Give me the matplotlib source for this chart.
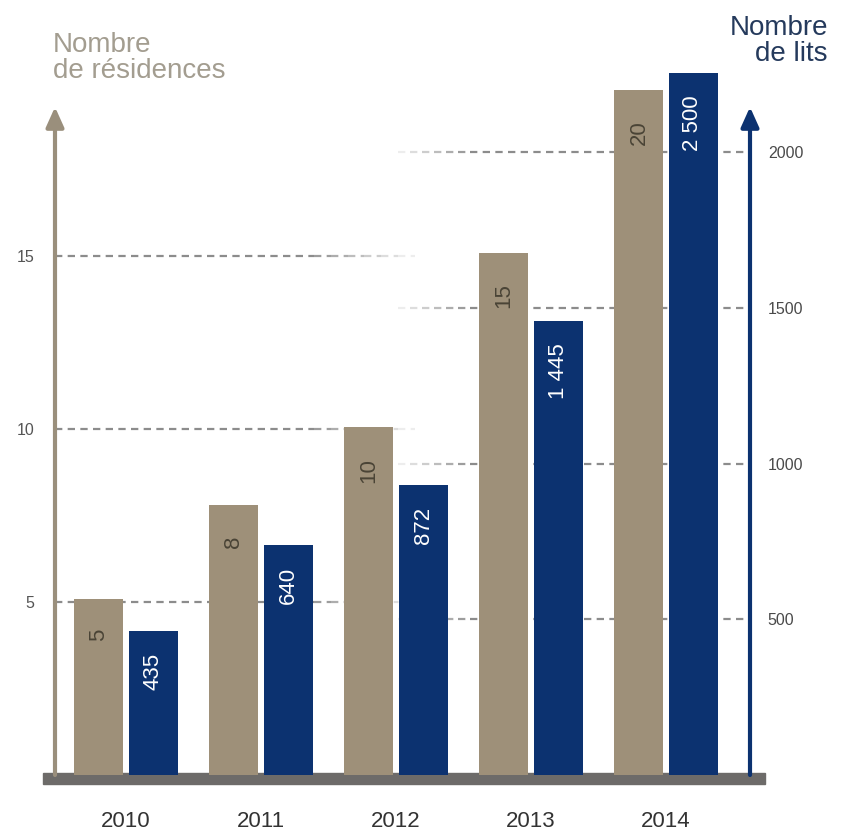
import matplotlib
matplotlib.use("Agg")
import matplotlib.pyplot as plt
from matplotlib.transforms import blended_transform_factory
import numpy as np

plt.rcParams['font.family'] = ['Liberation Sans', 'DejaVu Sans']

# ---- data ----
years = ['2010', '2011', '2012', '2013', '2014']
residences = [5.1, 7.8, 10.05, 15.1, 19.8]          # bar heights as drawn
residences_labels = ['5', '8', '10', '15', '20']
lits = [463, 739, 932, 1458, 2255]                   # bar heights as drawn
lits_labels = ['435', '640', '872', '1 445', '2 500']
left_ticks = [5, 10, 15]
right_ticks = [500, 1000, 1500, 2000]

TAN = '#9e9079'
NAVY = '#0c3270'
TAN_AXIS = '#9a8f7c'
GRID = '#8c8c8c'

W, H = 845, 831
fig = plt.figure(figsize=(W / 100, H / 100), dpi=100)
fig.patch.set_facecolor('white')

# axes in pixel layout
x0, x1 = 43, 765
ytop, ybot = 60, 775
ax = fig.add_axes([x0 / W, 1 - ybot / H, (x1 - x0) / W, (ybot - ytop) / H])
ax2 = ax.twinx()

px_per_unit = 135.0
c0 = 126
ax.set_xlim((x0 - c0) / px_per_unit, (x1 - c0) / px_per_unit)
ax.set_ylim(0, (ybot - ytop) / 34.6)
ax2.set_ylim(0, (ybot - ytop) / 0.3113)

for a in (ax, ax2):
    for s in a.spines.values():
        s.set_visible(False)

x = np.arange(len(years))
bw = 49 / px_per_unit
off = 27 / px_per_unit

# ---- gridlines (faded ends), drawn beneath bars ----
def faded_line(axis_for_y, yval, xa, xb, fade_side, fade_len):
    tr = blended_transform_factory(ax.transAxes, axis_for_y.transData)
    n = 6
    if fade_side == 'right':
        solid = (xa, xb - fade_len)
        ax.plot(solid, [yval, yval], transform=tr, color=GRID, lw=1.6,
                dashes=(3.3, 2.4), zorder=1, solid_capstyle='butt')
        edges = np.linspace(xb - fade_len, xb, n + 1)
        alphas = np.linspace(0.85, 0.15, n)
    else:
        solid = (xa + fade_len, xb)
        ax.plot(solid, [yval, yval], transform=tr, color=GRID, lw=1.6,
                dashes=(3.3, 2.4), zorder=1, solid_capstyle='butt')
        edges = np.linspace(xa, xa + fade_len, n + 1)
        alphas = np.linspace(0.15, 0.85, n)
    for i in range(n):
        ax.plot(edges[i:i + 2], [yval, yval], transform=tr, color=GRID,
                lw=1.6, dashes=(3.3, 2.4), alpha=alphas[i], zorder=1)

def fx(px):
    return (px - x0) / (x1 - x0)

for t in left_ticks:
    faded_line(ax, t, fx(55), fx(415), 'right', 0.14)
for t in right_ticks:
    faded_line(ax2, t, fx(398), fx(750), 'left', 0.10)

# ---- bars ----
ax.bar(x - off, residences, width=bw, color=TAN, zorder=3)
ax2.bar(x + off, lits, width=bw, color=NAVY, zorder=3)

for xi, h, lab in zip(x, residences, residences_labels):
    ax.annotate(lab, xy=(xi - off, h), xytext=(0, -22), textcoords='offset points',
                rotation=90, ha='center', va='top', fontsize=16,
                color='#4a4436', zorder=4)
for xi, h, lab in zip(x, lits, lits_labels):
    ax2.annotate(lab, xy=(xi + off, h), xytext=(0, -16), textcoords='offset points',
                 rotation=90, ha='center', va='top', fontsize=16,
                 color='white', zorder=4)

# ---- baseline band ----
ax.axhspan(-9 / 34.6, 2 / 34.6, color='#6d6b69', clip_on=False, zorder=2)

# ---- axis arrows ----
xl = (55 - c0) / px_per_unit
xr = (750 - c0) / px_per_unit
ax.annotate('', xy=(xl, (ybot - 107) / 34.6), xytext=(xl, 0),
            arrowprops=dict(arrowstyle='-|>,head_length=0.6,head_width=0.27',
                            color=TAN_AXIS, lw=3, mutation_scale=20,
                            shrinkA=0, shrinkB=0), annotation_clip=False, zorder=5)
ax2.annotate('', xy=(xr, (ybot - 107) / 0.3113), xytext=(xr, 0),
             arrowprops=dict(arrowstyle='-|>,head_length=0.6,head_width=0.27',
                             color=NAVY, lw=3, mutation_scale=20,
                             shrinkA=0, shrinkB=0), annotation_clip=False, zorder=5)

# ---- ticks ----
ax.set_yticks(left_ticks)
ax.set_yticklabels([str(t) for t in left_ticks])
ax.tick_params(axis='y', length=0, pad=6, labelsize=11.5, labelcolor='#555555')
ax2.set_yticks(right_ticks)
ax2.set_yticklabels([str(t) for t in right_ticks])
ax2.tick_params(axis='y', length=0, pad=2, labelsize=11.5, labelcolor='#4a4a4a')

ax.set_xticks(x)
ax.set_xticklabels(years)
ax.tick_params(axis='x', length=0, pad=26, labelsize=16, labelcolor='#333333')

# ---- axis titles ----
fig.text(53 / W, 1 - 32 / H, 'Nombre\nde résidences', ha='left', va='top',
         fontsize=20, color='#a39d90', linespacing=1.02)
fig.text(828 / W, 1 - 15 / H, 'Nombre\nde lits', ha='right', va='top',
         fontsize=20, color='#253a5c', linespacing=1.02)

fig.savefig('out.png', dpi=100)
